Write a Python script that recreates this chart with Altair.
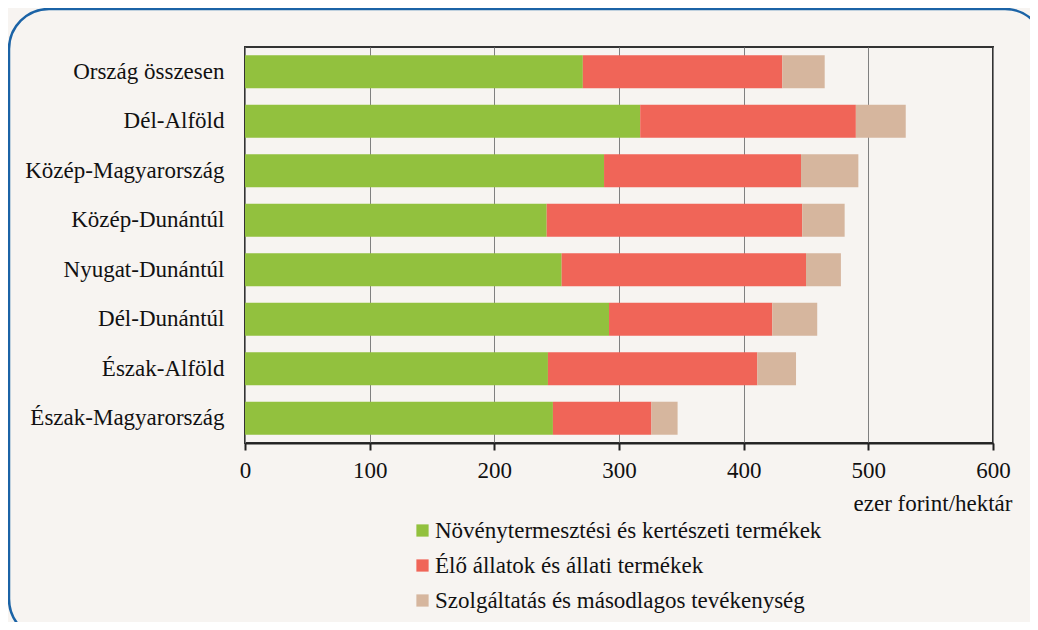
import altair as alt
import pandas as pd

regions = ["Ország összesen", "Dél-Alföld", "Közép-Magyarország", "Közép-Dunántúl",
           "Nyugat-Dunántúl", "Dél-Dunántúl", "Észak-Alföld", "Észak-Magyarország"]
series = ["Növénytermesztési és kertészeti termékek",
          "Élő állatok és állati termékek",
          "Szolgáltatás és másodlagos tevékenység"]
crop = [271, 317, 288, 242, 254, 292, 243, 247]
animal = [160, 173, 158, 205, 196, 131, 168, 79]
service = [34, 40, 46, 34, 28, 36, 31, 21]
colors = ["#92c13e", "#f06558", "#d6b69e"]
x_ticks = [0, 100, 200, 300, 400, 500, 600]

rows = []
for i, r in enumerate(regions):
    for k, vals in enumerate([crop, animal, service]):
        rows.append({"region": r, "series": series[k], "value": vals[i], "order": k})
df = pd.DataFrame(rows)

FONT = "Liberation Serif"
FS = 23
BG = "#f7f4f1"

border = alt.Chart(alt.Data(values=[{"a": 1}])).mark_rect(
    fillOpacity=0, stroke="#1b63a6", strokeWidth=2.5, cornerRadius=40
).encode(
    x=alt.value(-236), x2=alt.value(800),
    y=alt.value(-38), y2=alt.value(592)
)

bars = alt.Chart(df).mark_bar().encode(
    y=alt.Y("region:N", sort=regions, title=None,
            scale=alt.Scale(paddingInner=0.333, paddingOuter=0.167),
            axis=alt.Axis(ticks=False, domain=False, labelPadding=21,
                          labelFontSize=FS, labelFont=FONT, labelColor="#111",
                          labelLimit=300)),
    x=alt.X("value:Q", stack="zero",
            scale=alt.Scale(domain=[0, 600], nice=False),
            axis=alt.Axis(values=x_ticks, title="ezer forint/hektár",
                          grid=True, gridColor="#808080", gridWidth=1,
                          domainColor="#222", domainWidth=2,
                          tickColor="#222", tickWidth=2, tickSize=7,
                          labelFlush=False,
                          labelPadding=9, labelFontSize=FS, labelFont=FONT,
                          labelColor="#111",
                          titleFont=FONT, titleFontSize=FS, titleFontWeight="normal",
                          titleColor="#111", titleAnchor="end", titleAlign="right",
                          titleX=767, titleY=67, titleBaseline="alphabetic")),
    color=alt.Color("series:N", sort=series,
                    scale=alt.Scale(domain=series, range=colors),
                    legend=alt.Legend(title=None, orient="none", legendX=166, legendY=472,
                                      symbolType="square", symbolSize=150,
                                      symbolStrokeWidth=0, symbolOpacity=1,
                                      labelFont=FONT, labelFontSize=FS, labelColor="#111",
                                      rowPadding=11, labelOffset=1, labelLimit=600)),
    order=alt.Order("order:Q")
)

chart = alt.layer(border, bars).properties(
    width=748, height=396,
    autosize=alt.AutoSizeParams(type="none"),
    padding={"left": 237, "top": 39, "right": 37, "bottom": 179},
    background=BG
).configure_view(
    stroke="#333", strokeWidth=2
)

chart.save("out.html", embed_options={"renderer": "svg", "actions": False})
